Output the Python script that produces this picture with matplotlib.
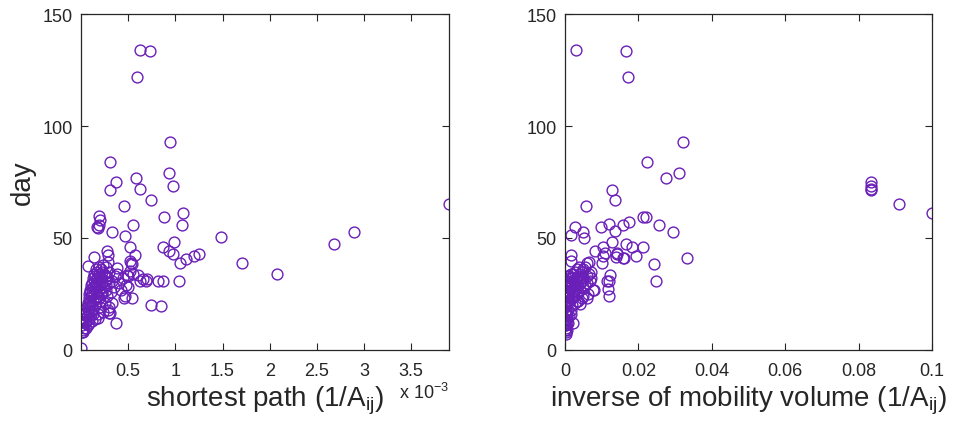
import matplotlib
matplotlib.use("Agg")
import matplotlib.pyplot as plt

plt.rcParams['font.family'] = ['Liberation Sans', 'DejaVu Sans']
plt.rcParams['mathtext.fontset'] = 'custom'
plt.rcParams['mathtext.rm'] = 'Liberation Sans'
plt.rcParams['mathtext.it'] = 'Liberation Sans'

# ---------------- data: left panel (shortest path, x in units of 1e-3) ----------------
left_x = [0.623, 0.735, 0.595, 0.944, 0.312, 0.581, 0.930, 0.369, 0.972, 0.309,
          0.626, 0.746, 0.457, 3.90, 1.078, 0.193, 0.203, 0.880, 0.17, 0.18,
          0.19, 1.074, 0.552, 0.333, 2.891, 0.464, 1.480, 0.983, 0.524, 0.873,
          2.679, 0.277, 0.281, 0.570, 0.937, 0.979, 1.117, 1.198, 1.247, 1.047,
          1.709, 0.291, 0.136, 0.531, 0.545, 0.52, 0.076, 0.386, 2.080, 0.49,
          0.52, 0.602, 0.66, 0.69, 0.70, 0.626, 0.82, 0.866, 1.042, 0.746,
          0.852, 0.542, 0.46, 0.47, 0.496, 0.376, 0.298, 0.178, 0.0, 0.02,
          0.0, 0.13, 0.31,
          # dense cluster
          0.01, 0.02, 0.03, 0.01, 0.04, 0.02, 0.05, 0.03, 0.06, 0.04,
          0.08, 0.05, 0.07, 0.09, 0.06, 0.10, 0.08, 0.12, 0.07, 0.10,
          0.13, 0.09, 0.15, 0.11, 0.14, 0.18, 0.20, 0.12, 0.16, 0.10,
          0.19, 0.22, 0.13, 0.17, 0.24, 0.11, 0.15, 0.20, 0.27, 0.12,
          0.16, 0.22, 0.30, 0.14, 0.18, 0.25, 0.33, 0.13, 0.17, 0.21,
          0.28, 0.15, 0.20, 0.26, 0.36, 0.14, 0.19, 0.24, 0.17, 0.22,
          0.30, 0.16, 0.21, 0.19, 0.26, 0.23, 0.10, 0.08, 0.20, 0.25,
          0.28, 0.32, 0.35, 0.40, 0.42, 0.30, 0.23, 0.18, 0.15, 0.12,
          0.05, 0.07, 0.09, 0.11, 0.13, 0.16, 0.19, 0.22, 0.27, 0.38,
          0.45, 0.50, 0.55, 0.48, 0.33, 0.29]
left_y = [134.0, 133.3, 122.0, 92.8, 84.0, 77.0, 79.0, 75.1, 73.3, 71.4,
          71.9, 66.9, 64.3, 65.0, 61.2, 59.7, 58.1, 59.2, 55.0, 54.3,
          55.6, 56.0, 56.0, 52.9, 52.9, 51.1, 50.4, 48.0, 45.9, 45.9,
          47.2, 44.2, 42.6, 42.3, 44.0, 42.8, 40.7, 42.0, 42.9, 38.7,
          39.0, 39.5, 41.3, 39.0, 38.4, 39.6, 37.5, 36.4, 34.0, 33.5,
          35.3, 33.4, 31.6, 30.8, 31.9, 30.8, 30.8, 30.8, 30.8, 20.0,
          19.5, 23.1, 23.1, 24.1, 28.3, 11.9, 16.7, 14.5, 1.0, 8.0,
          12.5, 16.0, 16.7,
          8, 9, 10, 11, 12, 13, 13, 14, 15, 16,
          14, 17, 18, 17, 19, 19, 20, 20, 21, 22,
          22, 23, 23, 24, 25, 24, 22, 26, 26, 27,
          27, 26, 28, 28, 28, 29, 29, 29, 29, 30,
          30, 30, 30, 31, 31, 31, 31, 32, 32, 32,
          32, 33, 33, 33, 33, 34, 34, 34, 35, 35,
          35, 36, 36, 37, 37, 38, 26, 25, 19, 21,
          24, 26, 28, 30, 27, 19, 17, 16, 14, 13,
          10, 11, 12, 16, 18, 21, 23, 25, 27, 34,
          32, 33, 34, 29, 21, 18]

# ---------------- data: right panel (inverse of mobility volume) ----------------
right_x = [0.0029, 0.0167, 0.0171, 0.0321, 0.0224, 0.0274, 0.0310, 0.0833, 0.0833, 0.0833,
           0.0833, 0.0909, 0.1000, 0.0129, 0.0135, 0.0057, 0.0028, 0.0016, 0.0050, 0.0052,
           0.0097, 0.0121, 0.0136, 0.0159, 0.0175, 0.0213, 0.0222, 0.0256, 0.0294, 0.0332,
           0.0243, 0.0247, 0.0213, 0.0193, 0.0182, 0.0165, 0.0161, 0.0139, 0.0143, 0.0128,
           0.0109, 0.0104, 0.0104, 0.0101, 0.0082, 0.0123, 0.0114, 0.0121, 0.0118, 0.0121,
           0.0080, 0.0016, 0.0016, 0.0059, 0.0066, 0.0036, 0.0041, 0.0059, 0.0023, 0.0141,
           0.0159,
           # dense cluster
           0.0002, 0.0003, 0.0001, 0.0004, 0.0002, 0.0005, 0.0001, 0.0003, 0.0006, 0.0002,
           0.0004, 0.0007, 0.0001, 0.0003, 0.0006, 0.0009, 0.0002, 0.0005, 0.0008, 0.0011,
           0.0003, 0.0007, 0.0010, 0.0014, 0.0004, 0.0009, 0.0013, 0.0018, 0.0006, 0.0011,
           0.0016, 0.0022, 0.0008, 0.0015, 0.0020, 0.0025, 0.0030, 0.0035, 0.0040, 0.0045,
           0.0050, 0.0055, 0.0028, 0.0033, 0.0038, 0.0020, 0.0025, 0.0030, 0.0035, 0.0040,
           0.0045, 0.0050, 0.0060, 0.0065, 0.0070, 0.0012, 0.0018, 0.0024, 0.0030, 0.0036,
           0.0042, 0.0048, 0.0055, 0.0060, 0.0068, 0.0072, 0.0015, 0.0020, 0.0028, 0.0034,
           0.0045, 0.0050, 0.0062, 0.0075, 0.0010, 0.0016, 0.0008, 0.0005, 0.0001, 0.0001,
           0.0002, 0.0001, 0.0002, 0.0001, 0.0002, 0.0001, 0.0003, 0.0004]
right_y = [134.0, 133.3, 122.0, 92.8, 84.0, 77.0, 79.0, 75.1, 73.3, 71.9,
           71.4, 65.0, 61.2, 71.4, 66.9, 64.3, 54.8, 51.2, 52.9, 49.8,
           54.8, 56.2, 53.1, 56.0, 57.2, 59.2, 59.2, 56.0, 52.9, 41.0,
           38.3, 30.8, 46.0, 42.0, 46.2, 47.2, 41.0, 41.3, 42.8, 48.0,
           43.5, 45.8, 42.0, 39.0, 44.0, 33.4, 30.8, 30.8, 27.1, 23.9,
           26.8, 42.3, 39.8, 39.0, 39.3, 21.9, 20.4, 23.1, 11.9, 43.5,
           41.0,
           7, 8, 9, 10, 11, 12, 13, 14, 15, 16,
           17, 18, 19, 20, 21, 22, 23, 24, 25, 26,
           27, 28, 29, 30, 31, 31, 32, 32, 33, 33,
           34, 34, 29, 28, 30, 31, 32, 33, 34, 35,
           36, 37, 35, 36, 37, 26, 27, 28, 29, 30,
           31, 32, 33, 34, 35, 22, 23, 24, 25, 26,
           27, 28, 29, 30, 31, 32, 18, 20, 21, 22,
           23, 24, 25, 27, 15, 16, 12, 9, 24, 28,
           30, 26, 21, 17, 14, 11, 25, 29]

left_xticks = [0.5, 1, 1.5, 2, 2.5, 3, 3.5]
left_xticklabels = ['0.5', '1', '1.5', '2', '2.5', '3', '3.5']
right_xticks = [0, 0.02, 0.04, 0.06, 0.08, 0.1]
right_xticklabels = ['0', '0.02', '0.04', '0.06', '0.08', '0.1']
yticks = [0, 50, 100, 150]

color = '#6A1FB8'
tc = '#262626'

fig = plt.figure(figsize=(9.58, 4.27), dpi=100)
axL = fig.add_axes([81/958, 76/427, 368/958, 336/427])
axR = fig.add_axes([565/958, 76/427, 367/958, 336/427])

for ax in (axL, axR):
    ax.set_ylim(0, 150)
    ax.set_yticks(yticks)
    ax.tick_params(direction='in', length=5, width=0.8, labelsize=13,
                   colors=tc, top=True, right=True)
    ax.tick_params(axis='x', pad=9)
    ax.tick_params(axis='y', pad=6)
    for s in ax.spines.values():
        s.set_color(tc)
        s.set_linewidth(0.9)

axL.plot(left_x, left_y, 'o', mfc='none', mec=color, ms=7.8, mew=1.0)
axL.set_xlim(0, 3.9)
axL.set_xticks(left_xticks)
axL.set_xticklabels(left_xticklabels)
axL.set_ylabel('day', fontsize=20, color=tc, labelpad=5)
axL.set_xlabel(r'shortest path (1/A$_{\mathrm{ij}}$)', fontsize=20, color=tc, labelpad=3)
axL.text(1.0, -0.125, r'x 10$^{-3}$', transform=axL.transAxes, fontsize=13,
         color=tc, ha='right', va='center')

axR.plot(right_x, right_y, 'o', mfc='none', mec=color, ms=7.8, mew=1.0)
axR.set_xlim(0, 0.1)
axR.set_xticks(right_xticks)
axR.set_xticklabels(right_xticklabels)
axR.set_xlabel(r'inverse of mobility volume (1/A$_{\mathrm{ij}}$)', fontsize=20,
               color=tc, labelpad=3)

fig.savefig('out.png', dpi=100)
